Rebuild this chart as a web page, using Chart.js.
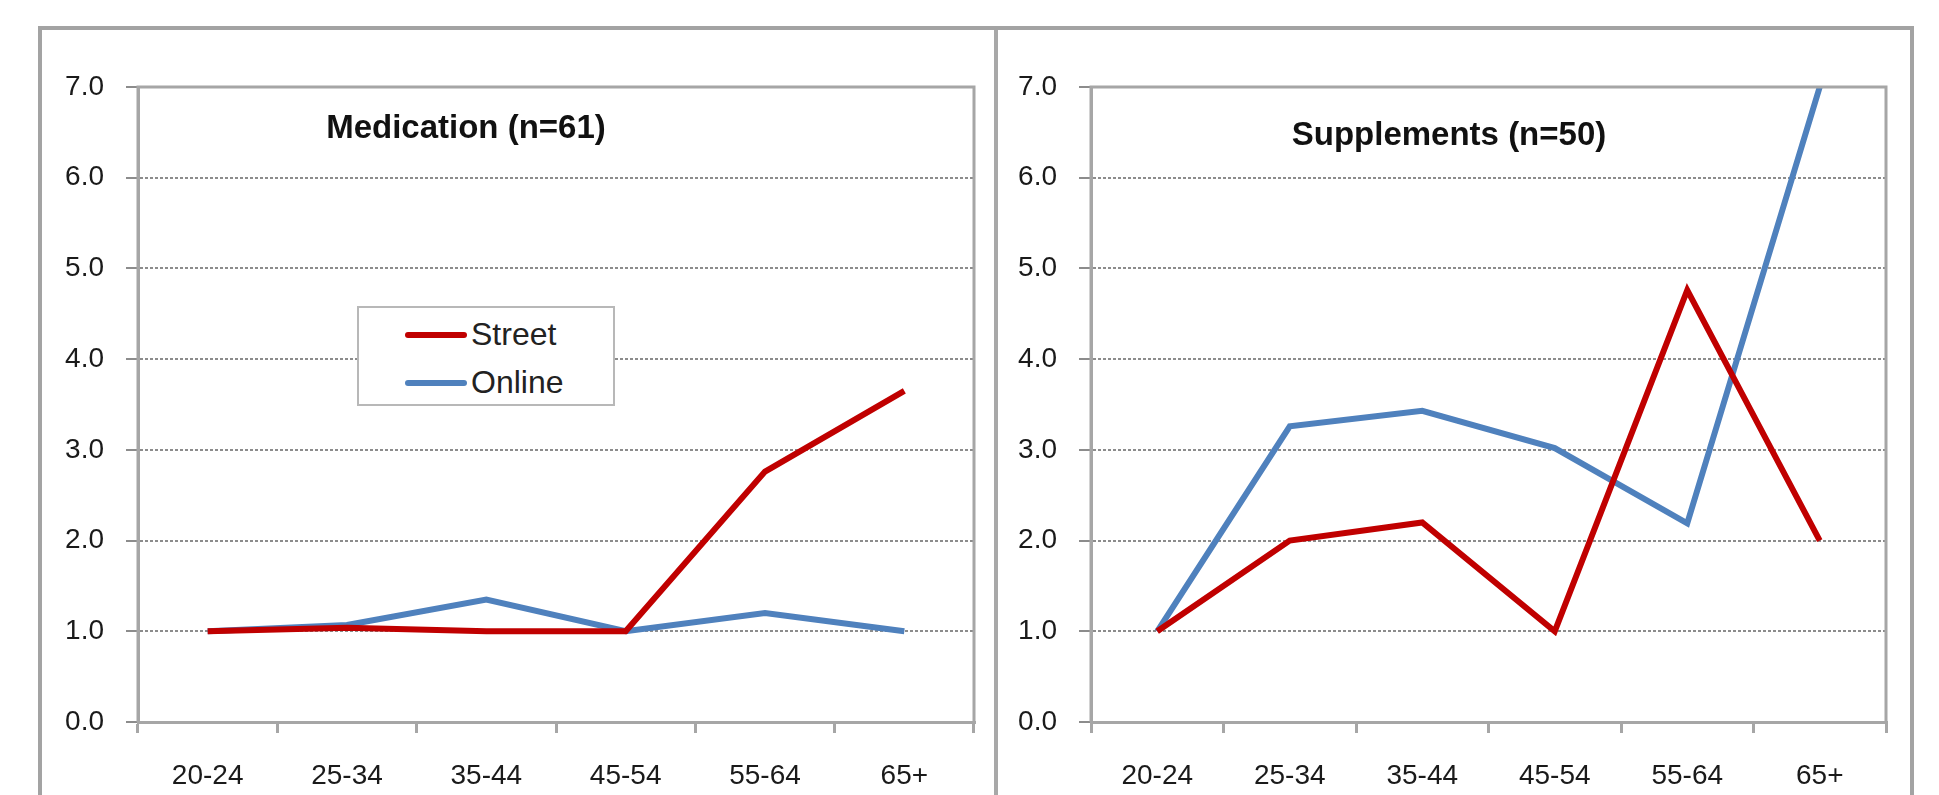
<!DOCTYPE html>
<html>
<head>
<meta charset="utf-8">
<script src="https://cdn.jsdelivr.net/npm/chart.js@4.4.0/dist/chart.umd.min.js"></script>
<style>
	body { margin: 0; background: #fff; width: 1939px; height: 795px; overflow: hidden; position: relative; font-family: "Liberation Sans", Arial, sans-serif; }
	#frame { position: absolute; left: 38px; top: 26px; width: 1876px; height: 800px; border: 4px solid #a3a3a3; border-bottom: none; box-sizing: border-box; }
	#divider { position: absolute; left: 994px; top: 30px; width: 4px; height: 780px; background: #a8a8a8; }
	.box { position: absolute; top: 27px; height: 768px; }
	.title { position: absolute; font-weight: bold; font-size: 33px; color: #111; white-space: nowrap; transform: translateX(-50%); }
	#legend { position: absolute; left: 357px; top: 306px; width: 258px; height: 100px; border: 2px solid #b8b8b8; background: #fff; box-sizing: border-box; }
	.item { position: absolute; left: 46px; font-size: 32px; color: #222; line-height: 1; }
	.item span { display: inline-block; width: 62px; height: 6px; border-radius: 3px; vertical-align: middle; margin-right: 4px; position: relative; top: -2px; }
</style>
</head>
<body>
<div id="frame"></div>
<div id="divider"></div>
<div class="box" style="left:41px;width:953px;"><canvas id="medChart"></canvas></div>
<div class="box" style="left:998px;width:916px;"><canvas id="supChart"></canvas></div>
<div class="title" id="medTitle" style="left:466px;top:108px;"></div>
<div class="title" id="supTitle" style="left:1449px;top:115px;"></div>
<div id="legend">
	<div class="item" style="top:10px;"><span style="background:#C00000"></span>Street</div>
	<div class="item" style="top:58px;"><span style="background:#4F81BD"></span>Online</div>
</div>
<script>
// 年龄组
const ageGroups = ['20-24', '25-34', '35-44', '45-54', '55-64', '65+'];
// 纵轴刻度
const yTicks = [0, 1, 2, 3, 4, 5, 6, 7];

// 药物 (n=61)
const medTitle = 'Medication (n=61)';
const medStreet = [1.0, 1.04, 1.0, 1.0, 2.76, 3.65];
const medOnline = [1.0, 1.07, 1.35, 1.0, 1.2, 1.0];

// 补充剂 (n=50)
const supTitle = 'Supplements (n=50)';
const supStreet = [1.0, 2.0, 2.2, 1.0, 4.76, 2.0];
const supOnline = [1.0, 3.26, 3.43, 3.02, 2.19, 7.0];

const seriesNames = ['Street', 'Online'];
const seriesColors = ['#C00000', '#4F81BD'];

document.getElementById('medTitle').textContent = medTitle;
document.getElementById('supTitle').textContent = supTitle;

// 绘图区外框
const framePlugin = {
	id: 'plotFrame',
	afterDraw(chart) {
		const a = chart.chartArea;
		const ctx = chart.ctx;
		ctx.save();
		ctx.strokeStyle = '#a6a6a6';
		ctx.lineWidth = 3;
		ctx.beginPath();
		ctx.moveTo(a.left, a.bottom);
		ctx.lineTo(a.left, a.top);
		ctx.lineTo(a.right, a.top);
		ctx.lineTo(a.right, a.bottom);
		ctx.stroke();
		ctx.restore();
	}
};

function makeChart(id, street, online, yWidth, padRight) {
	const ctx = document.getElementById(id).getContext('2d');
	return new Chart(ctx, {
		type: 'line',
		data: {
			labels: ageGroups,
			datasets: [
				{ label: seriesNames[0], data: street, borderColor: seriesColors[0], borderWidth: 6, pointRadius: 0, tension: 0, fill: false },
				{ label: seriesNames[1], data: online, borderColor: seriesColors[1], borderWidth: 6, pointRadius: 0, tension: 0, fill: false }
			]
		},
		options: {
			responsive: true,
			maintainAspectRatio: false,
			animation: false,
			layout: { padding: { top: 60, right: padRight, bottom: 0, left: 0 } },
			plugins: { legend: { display: false }, title: { display: false }, tooltip: { enabled: false } },
			scales: {
				x: {
					offset: true,
					grid: { offset: true, drawOnChartArea: false, drawTicks: true, tickLength: 11, color: '#a6a6a6', lineWidth: 3 },
					border: { display: true, color: '#a6a6a6', width: 3 },
					ticks: { color: '#1a1a1a', padding: 26, font: { family: 'Liberation Sans', size: 28 }, maxRotation: 0 },
					afterFit: function(scale) { scale.height = 73; }
				},
				y: {
					min: 0,
					max: 7,
					afterBuildTicks: function(scale) { scale.ticks = yTicks.map(v => ({ value: v })); },
					grid: { color: '#8c8c8c', lineWidth: 2, drawTicks: true, tickLength: 12 },
					border: { display: true, color: '#a6a6a6', width: 3, dash: [3, 2] },
					ticks: { color: '#1a1a1a', padding: 22, font: { family: 'Liberation Sans', size: 28 }, callback: v => v.toFixed(1) },
					afterFit: function(scale) { scale.width = yWidth; }
				}
			}
		},
		plugins: [framePlugin]
	});
}

makeChart('medChart', medStreet, medOnline, 97, 20);
makeChart('supChart', supStreet, supOnline, 93, 28);
</script>
</body>
</html>
